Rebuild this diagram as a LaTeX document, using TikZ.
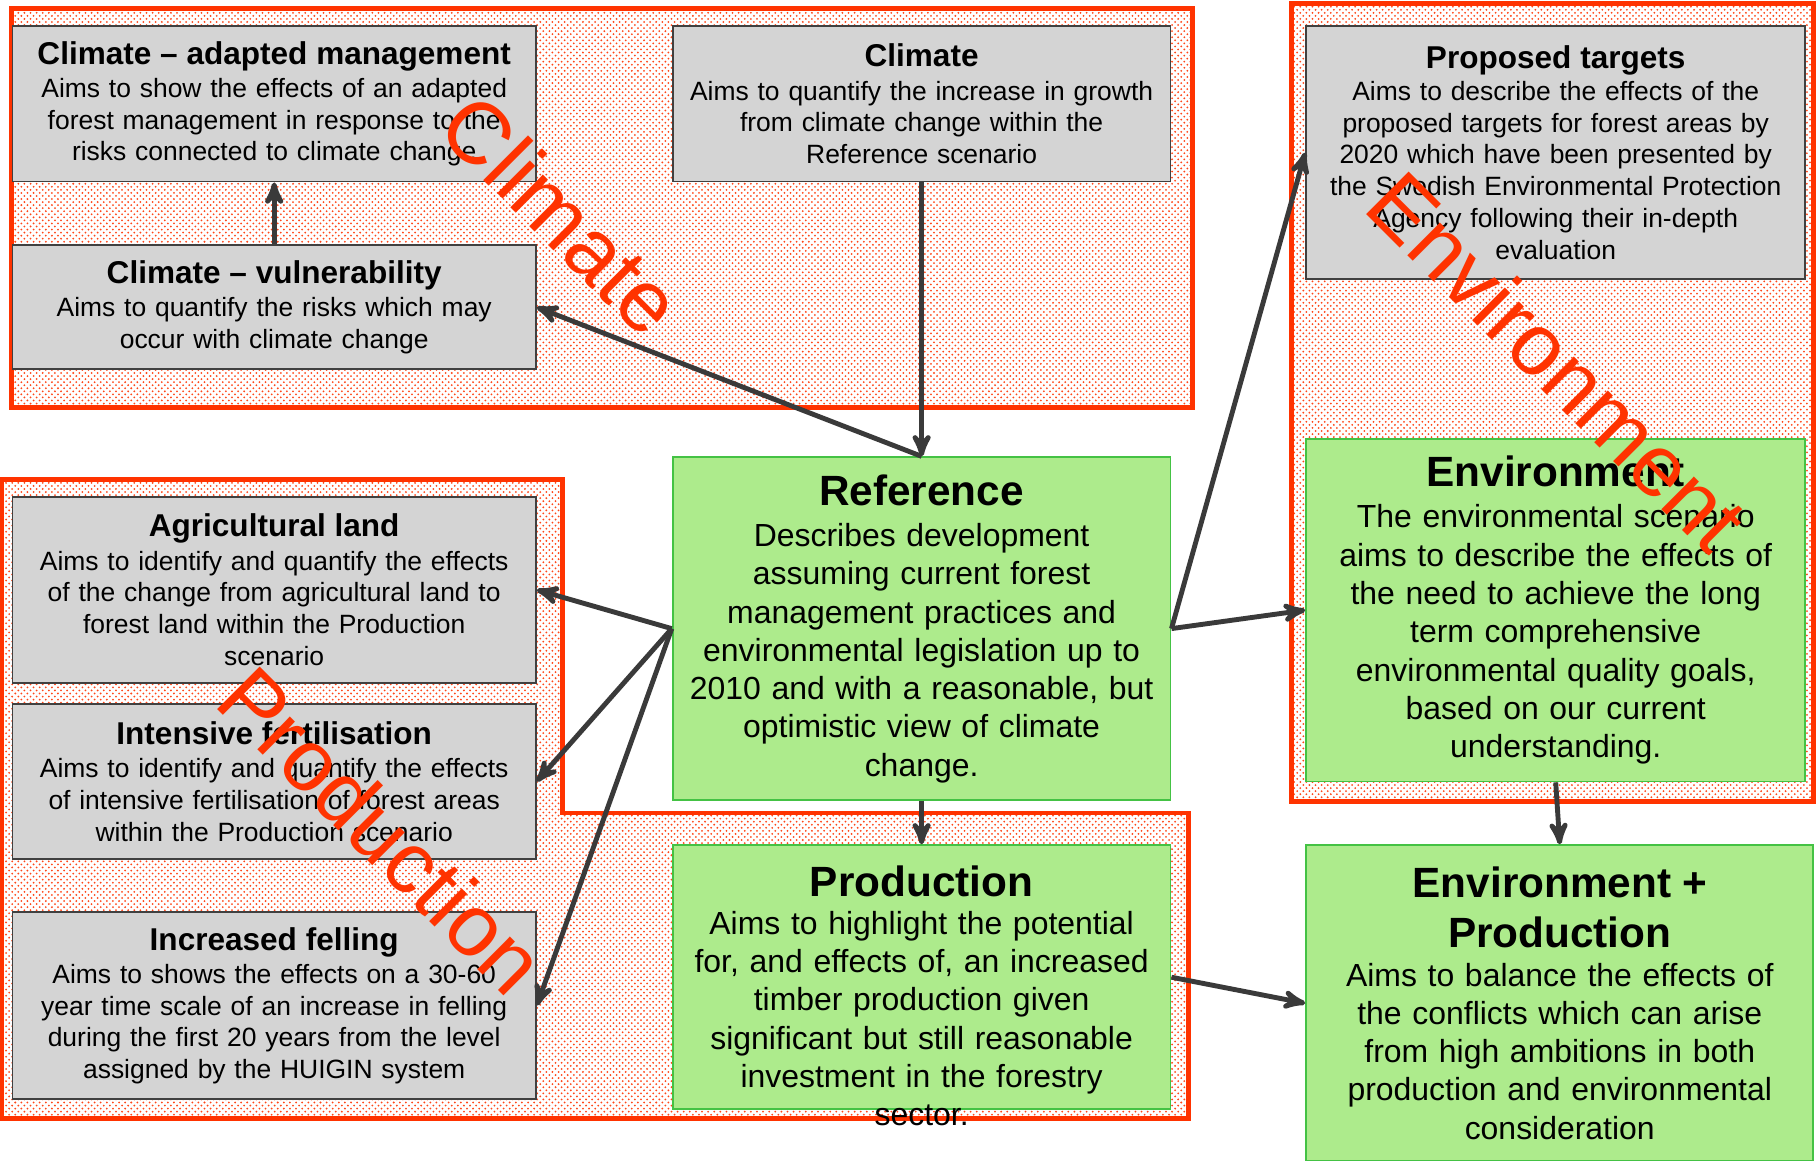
\documentclass[tikz,border=0pt]{standalone}
\usepackage{fontspec}
\setmainfont{Liberation Sans}
\usetikzlibrary{arrows,patterns}

\definecolor{regionred}{HTML}{FF3300}
\definecolor{boxgrey}{HTML}{D4D4D4}
\definecolor{boxgreen}{HTML}{ADEB8C}
\definecolor{greenline}{HTML}{44C244}
\definecolor{arrowgrey}{HTML}{3A3A3A}

\newcommand{\greytitle}[1]{{\fontsize{15.5}{17}\selectfont\bfseries #1}}
\newcommand{\greentitle}[1]{{\fontsize{20.8}{24}\selectfont\bfseries #1}}

\begin{document}
\begin{tikzpicture}[-,>=stealth',x=0.02cm,y=-0.02cm]
  \tikzstyle{region}=[draw=regionred,line width=2.4pt,pattern=crosshatch dots,pattern color=regionred!90]
  \tikzstyle{greybox}=[draw=black!75,fill=boxgrey,line width=0.9pt,inner sep=0pt,align=center,anchor=north west,font=\fontsize{13}{15.6}\selectfont]
  \tikzstyle{greenbox}=[draw=greenline,fill=boxgreen,line width=0.9pt,inner sep=0pt,align=center,anchor=north west,font=\fontsize{15.7}{18.8}\selectfont]
  \tikzstyle{bigtag}=[text=regionred,rotate=-45,font=\fontsize{43}{43}\selectfont]
  \tikzstyle{link}=[draw=arrowgrey,line width=2.4pt,->]

  \useasboundingbox (0,0) rectangle (1568,1002);

  \draw[region] (10,7) rectangle (1030,352);
  \draw[region] (1115,3) rectangle (1566,692);
  \draw[region] (1,414) -- (486,414) -- (486,702) -- (1026,702) -- (1026,966) -- (1,966) -- cycle;

  \node[greybox,text width=9.04cm,minimum height=2.68cm] (adapt) at (10,22)
    {\greytitle{Climate – adapted management}\\[0.7pt] Aims to show the effects of an adapted\\ forest management  in response to the\\ risks connected to climate change};
  \node[greybox,text width=9.04cm,minimum height=2.14cm] (vuln) at (10,211)
    {\greytitle{Climate – vulnerability}\\[0.7pt] Aims to quantify the risks which may\\ occur with climate change};
  \node[greybox,text width=8.6cm,minimum height=2.68cm] (clim) at (580,22)
    {\greytitle{Climate}\\[0.7pt] Aims to quantify the increase in growth\\ from climate change within the\\ Reference scenario};
  \node[greybox,text width=8.62cm,minimum height=4.36cm] (targets) at (1127,22)
    {\greytitle{Proposed targets}\\ Aims to describe the effects of the\\ proposed targets for forest areas by\\ 2020 which have been presented by\\ the Swedish Environmental Protection\\ Agency following their in-depth\\ evaluation};
  \node[greybox,text width=9.04cm,minimum height=3.22cm] (agri) at (10,428)
    {\greytitle{Agricultural land}\\[0.7pt] Aims to identify and quantify the effects\\ of the change from agricultural land to\\ forest land within the Production\\ scenario};
  \node[greybox,text width=9.04cm,minimum height=2.68cm] (fert) at (10,607)
    {\greytitle{Intensive fertilisation}\\[0.7pt] Aims to identify and quantify the effects\\ of intensive fertilisation of forest areas\\ within the Production scenario};
  \node[greybox,text width=9.04cm,minimum height=3.22cm] (fell) at (10,787)
    {\greytitle{Increased felling}\\[0.7pt] Aims to shows the effects on a 30-60\\ year time scale of an increase in felling\\ during the first 20 years from the level\\ assigned by the HUIGIN system};

  \node[greenbox,text width=8.6cm,minimum height=5.92cm] (ref) at (580,394)
    {\greentitle{Reference}\\[1.5pt] Describes development\\ assuming current forest\\ management practices and\\ environmental legislation up to\\ 2010 and with a reasonable, but\\ optimistic view of climate\\ change.};
  \node[greenbox,text width=8.6cm,text height=0.88cm,text depth=3.68cm] (prod) at (580,729)
    {\greentitle{Production}\\ Aims to highlight the potential\\ for, and effects of, an increased\\ timber production given\\ significant but still reasonable\\ investment in the forestry\\ sector.};
  \node[greenbox,text width=8.62cm,minimum height=5.92cm] (env) at (1127,378)
    {\greentitle{Environment}\\[1.5pt] The environmental scenario\\ aims to describe the effects of\\ the need to achieve the long\\ term comprehensive\\ environmental quality goals,\\ based on our current\\ understanding.};
  \node[greenbox,text width=8.76cm,minimum height=5.46cm] (envprod) at (1127,729)
    {\greentitle{Environment +}\\[5.7pt] \greentitle{Production}\\ Aims to balance the effects of\\ the conflicts which can arise\\ from high ambitions in both\\ production and environmental\\ consideration};

  \path[every edge/.style=link] (vuln.north) edge (adapt.south)
    (clim.south) edge (ref.north)
    (ref.north)  edge (vuln.east)
    (ref.west)   edge (agri.east)
    (ref.west)   edge (fert.east)
    (ref.west)   edge (fell.east)
    (ref.east)   edge (targets.west)
    (ref.east)   edge (env.west)
    (ref.south)  edge (prod.north)
    (prod.east)  edge (envprod.west)
    (env.south)  edge (envprod.north);

  \node[bigtag] (climtag) at (485,185) {Climate};
  \node[bigtag] (envtag)  at (1345,312) {Environment};
  \node[bigtag] (prodtag) at (330,717) {Production};
\end{tikzpicture}
\end{document}
